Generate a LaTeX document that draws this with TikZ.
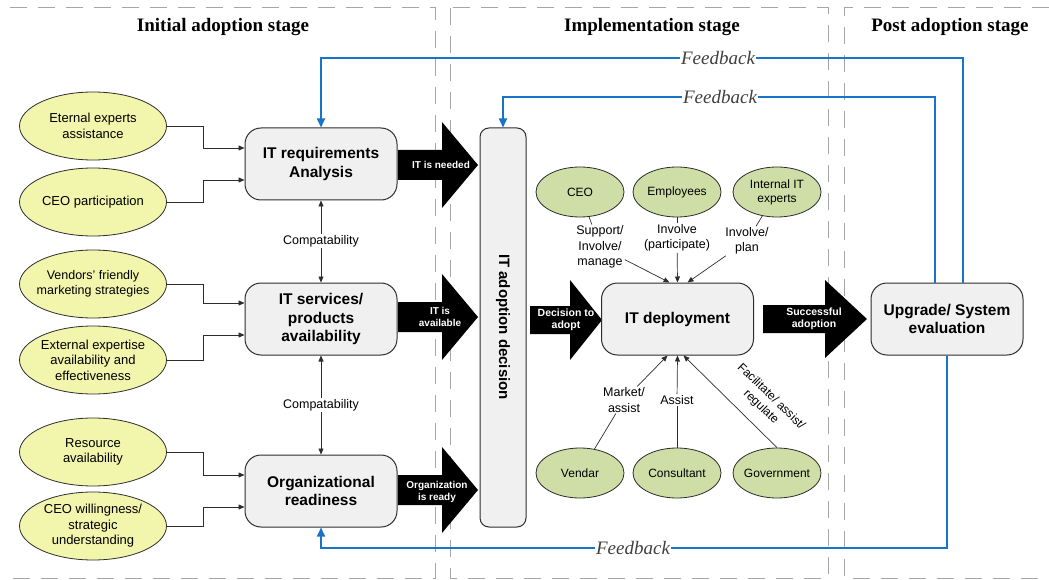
\documentclass[tikz,border=0pt]{standalone}
\usepackage{fontspec}
\setmainfont{Liberation Serif}
\setsansfont{Liberation Sans}
\usetikzlibrary{arrows.meta,calc,shapes.geometric}

\definecolor{ylw}{RGB}{242,245,172}
\definecolor{grn}{RGB}{207,221,166}
\definecolor{boxg}{RGB}{240,240,240}
\definecolor{fbblue}{RGB}{24,116,200}
\definecolor{edge}{RGB}{45,45,45}

% filled block arrow: #1 tail x, #2 head base x, #3 tip x, #4 centre y, #5 half shaft, #6 half head
\newcommand\blockarrow[6]{%
  \fill[black] (#1,#4-#5) -- (#2,#4-#5) -- (#2,#4-#6) -- (#3,#4) --
    (#2,#4+#6) -- (#2,#4+#5) -- (#1,#4+#5) -- cycle;}

\begin{document}
\begin{tikzpicture}[x=1pt,y=-1pt,
  factor/.style={ellipse, draw=edge, line width=0.8pt, fill=ylw,
    minimum width=147pt, minimum height=68pt, inner xsep=-30pt, inner ysep=-10pt,
    align=center, font=\sffamily\fontsize{13}{15.5}\selectfont},
  actor/.style={ellipse, draw=edge, line width=0.8pt, fill=grn,
    minimum width=88pt, minimum height=50pt, inner xsep=-12pt, inner ysep=-6pt,
    align=center, font=\sffamily\fontsize{12}{14}\selectfont},
  stagebox/.style={rectangle, rounded corners=16pt, draw=edge, line width=1pt,
    fill=boxg, minimum width=152pt, minimum height=72pt, align=center,
    font=\sffamily\bfseries\fontsize{15.5}{18.5}\selectfont},
  conn/.style={draw=edge, line width=0.7pt, -{Triangle[width=5pt,length=6pt]}},
  plain/.style={draw=edge, line width=0.7pt},
  fb/.style={draw=fbblue, line width=1.7pt, -{Triangle[width=8pt,length=9pt]}},
  fblabel/.style={fill=white, inner sep=1pt, text=black!75,
    font=\itshape\fontsize{19}{19}\selectfont},
  rel/.style={fill=white, inner sep=1pt, align=center,
    font=\sffamily\fontsize{12.5}{15.5}\selectfont},
  arrowtext/.style={text=white, align=center,
    font=\sffamily\bfseries\fontsize{10}{12}\selectfont},
  divider/.style={draw=black!35, line width=1pt, dash pattern=on 17pt off 11pt},
  title/.style={font=\bfseries\fontsize{19}{21}\selectfont}]

\useasboundingbox (0,0) rectangle (1049,580);

% stage frames
\draw[divider] (10,8) -- (435,8) -- (435,578) -- (10,578);
\draw[divider] (450,8) rectangle (828,578);
\draw[divider] (1049,8) -- (844,8) -- (844,578) -- (1049,578);

\node[title] (st1) at (223,27) {Initial adoption stage};
\node[title] (st2) at (652,27) {Implementation stage};
\node[title] (st3) at (950,27) {Post adoption stage};

% initial adoption stage
\node[stagebox] (b1) at (321,164) {IT requirements\\Analysis};
\node[stagebox] (b2) at (321,319) {IT services/\\products\\availability};
\node[stagebox] (b3) at (321,491) {Organizational\\readiness};

\node[factor] (e1) at (93,126) {Eternal experts\\assistance};
\node[factor] (e2) at (93,202) {CEO participation};
\node[factor, font=\sffamily\fontsize{12.5}{15.5}\selectfont] (e3) at (93,284)
  {Vendors' friendly\\marketing strategies};
\node[factor] (e4) at (93,360) {External expertise\\availability and\\effectiveness};
\node[factor] (e5) at (93,452) {Resource\\availability};
\node[factor] (e6) at (93,526) {CEO willingness/\\strategic\\understanding};

\draw[conn] (e1.east) -- ++(36,0) |- ($(b1.west)+(0,-16)$);
\draw[conn] (e2.east) -- ++(36,0) |- ($(b1.west)+(0,16)$);
\draw[conn] (e3.east) -- ++(36,0) |- ($(b2.west)+(0,-16)$);
\draw[conn] (e4.east) -- ++(36,0) |- ($(b2.west)+(0,16)$);
\draw[conn] (e5.east) -- ++(36,0) |- ($(b3.west)+(0,-16)$);
\draw[conn] (e6.east) -- ++(36,0) |- ($(b3.west)+(0,16)$);

\draw[conn, {Triangle[width=5pt,length=6pt]}-{Triangle[width=5pt,length=6pt]}] (b1) -- (b2);
\draw[conn, {Triangle[width=5pt,length=6pt]}-{Triangle[width=5pt,length=6pt]}] (b2) -- (b3);
\node[rel] (cp1) at (321,241) {Compatability};
\node[rel] (cp2) at (321,405) {Compatability};

% block arrows into the adoption decision
\blockarrow{398}{442}{478}{165}{15}{43}
\blockarrow{398}{442}{478}{317}{15}{43}
\blockarrow{398}{442}{478}{490}{15}{43}
\node[arrowtext] (a1) at (441,165) {IT is needed};
\node[arrowtext] (a2) at (440,317) {IT is\\available};
\node[arrowtext] (a3) at (437,492) {Organization\\is ready};

\node[draw=edge, line width=1pt, rounded corners=9pt, fill=boxg,
  minimum width=46pt, minimum height=399pt] (adopt) at (503,327.5) {};
\node[rotate=-90, font=\sffamily\bfseries\fontsize{15}{17}\selectfont]
  (adopttxt) at (503,327) {IT adoption decision};

% implementation stage
\blockarrow{530}{570}{602}{320}{14}{40}
\node[arrowtext, font=\sffamily\bfseries\fontsize{10.5}{12}\selectfont]
  (a4) at (566,320) {Decision to\\adopt};

\node[stagebox] (dep) at (677.5,319) {IT deployment};

\node[actor] (ceo) at (580,192) {CEO};
\node[actor] (emp) at (677,192) {Employees};
\node[actor] (int) at (777,192) {Internal IT\\experts};
\node[actor] (ven) at (580,473) {Vendar};
\node[actor] (con) at (677,473) {Consultant};
\node[actor] (gov) at (777,473) {Government};

\node[rel] (lsup) at (600,247) {Support/\\Involve/\\manage};
\node[rel] (lemp) at (677,238) {Involve\\(participate)};
\node[rel] (lint) at (747,241) {Involve/\\plan};
\node[rel] (lven) at (624,400) {Market/\\assist};
\node[rel] (lcon) at (677,400) {Assist};

\draw[plain] (ceo) -- (lsup);
\draw[conn] (lsup) -- ($(dep.north)+(-8,0)$);
\draw[plain] (emp) -- (lemp);
\draw[conn] (lemp) -- (dep.north);
\draw[plain] (int) -- (lint);
\draw[conn] (lint) -- ($(dep.north)+(10,0)$);

\draw[plain] (ven) -- (lven);
\draw[conn] (lven) -- ($(dep.south)+(-10,0)$);
\draw[plain] (con) -- (lcon);
\draw[conn] (lcon) -- (dep.south);
\draw[conn] (gov.north) -- ($(dep.south)+(6,0)$);
\node[align=center, rotate=-44, font=\sffamily\fontsize{12}{14.5}\selectfont]
  (lgov) at (766,402) {Facilitate/ assist/\\regulate};

% post adoption stage
\blockarrow{763}{825}{867}{319}{14}{39}
\node[arrowtext, font=\sffamily\bfseries\fontsize{10.5}{12}\selectfont]
  (a5) at (814,319) {Successful\\adoption};

\node[stagebox] (upg) at (947,319) {Upgrade/ System\\evaluation};

% feedback loops
\coordinate (fbTop) at (0,58);
\coordinate (fbMid) at (0,97);
\coordinate (fbBot) at (0,548);
\draw[fb] ([xshift=16pt]upg.north) |- (b1.north |- fbTop) -- (b1.north);
\draw[fb] ([xshift=-12pt]upg.north) |- (adopt.north |- fbMid) -- (adopt.north);
\draw[fb] (upg.south) |- (b3.south |- fbBot) -- (b3.south);
\node[fblabel] (fb1) at (718,58) {Feedback};
\node[fblabel] (fb2) at (720,97) {Feedback};
\node[fblabel] (fb3) at (633,548) {Feedback};

\end{tikzpicture}
\end{document}
